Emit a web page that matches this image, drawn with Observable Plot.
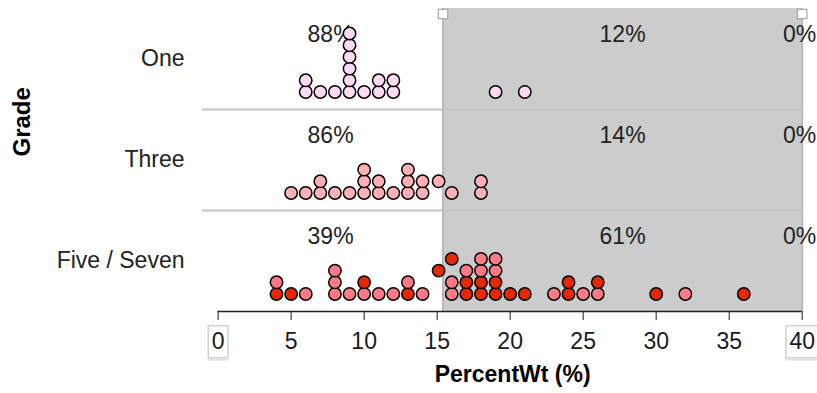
<!DOCTYPE html>
<html><head><meta charset="utf-8">
<script src="https://cdn.jsdelivr.net/npm/d3@7"></script>
<script src="https://cdn.jsdelivr.net/npm/@observablehq/plot@0.6"></script>
<style>
body{margin:0;background:#fff;}
</style>
</head><body><div id="chart"></div>
<script>
// ---- data ----
const grades = ["One", "Three", "Five / Seven"];
const oneValues = [6,6,7,8,9,9,9,9,9,9,10,11,11,12,12,19,21];
const threeValues = [5,6,7,7,8,9,10,10,10,11,11,12,13,13,13,14,14,16,15.1,18,18];
const fiveSevenValues = [4,4,5,6,8,8,8,9,10,10,11,12,13,13,14,16,16,15.1,16,17,17,17,18,18,18,18,19,19,19,19,20,21,23,24,24,25,26,26,30,32,36];
const fiveSevenGroups = ["Seven","Five","Seven","Five","Five","Five","Five","Five","Five","Seven","Five","Five","Seven","Five","Five","Five","Five","Seven","Seven","Seven","Seven","Five","Seven","Seven","Five","Five","Seven","Seven","Five","Five","Seven","Seven","Five","Seven","Seven","Five","Five","Seven","Seven","Five","Seven"];
const xTicks = [0,5,10,15,20,25,30,35,40];
const axisMin = 0, axisMax = 40;
const divider = 15.4;
const xLabel = "PercentWt (%)";
const yLabel = "Grade";
const groupColors = {One: "#ffd8f2", Three: "#ffb0b6", Five: "#ff7a84", Seven: "#e42800"};

// ---- stacking (Fathom-like: lowest free level without horizontal collision) ----
function stackLevels(values) {
  const placed = [];
  return values.map(v => {
    let level = 0;
    while (placed.some(p => p.level === level && Math.abs(p.v - v) < 0.95)) level++;
    placed.push({v, level});
    return level;
  });
}
const dots = [];
function addRow(grade, values, groups) {
  const levels = stackLevels(values);
  values.forEach((v, i) => dots.push({grade, value: v, level: levels[i], group: groups ? groups[i] : grade}));
}
addRow(grades[0], oneValues);
addRow(grades[1], threeValues);
addRow(grades[2], fiveSevenValues, fiveSevenGroups);

// ---- percentages per region ----
const regionBounds = [[-Infinity, divider], [divider, axisMax], [axisMax, Infinity]];
const regionX = [(axisMin + divider) / 2, (divider + axisMax) / 2, axisMax];
const pcts = [];
for (const g of grades) {
  const vals = dots.filter(d => d.grade === g).map(d => d.value);
  regionBounds.forEach(([a, b], i) => {
    const c = vals.filter(v => v >= a && (i === 1 ? v <= b : v < b)).length;
    pcts.push({grade: g, region: i, x: regionX[i], label: Math.round(100 * c / vals.length) + "%"});
  });
}

const yMin = -1.5, yMax = 7.14;
const chart = Plot.plot({
  width: 817, height: 393,
  marginLeft: 202, marginRight: 15.3, marginTop: 8, marginBottom: 82,
  style: {fontFamily: "'Liberation Sans', Arial, sans-serif", fontSize: "23px", color: "#1a1a1a", background: "#fff"},
  x: {domain: [-1.07, axisMax], ticks: xTicks, tickSize: 9, tickPadding: 12, label: null},
  y: {domain: [yMin, yMax], axis: null},
  fy: {domain: grades, axis: null, padding: 0},
  color: {type: "identity"},
  marks: [
    Plot.rect([0], {x1: divider, x2: axisMax, y1: yMin, y2: yMax, fill: "#cccccc"}),
    Plot.ruleX([divider, axisMax], {stroke: "#b8b8b8", strokeWidth: 2}),
    Plot.ruleY(grades.slice(1), {fy: d => d, y: yMax, stroke: "#c4c4c4", strokeWidth: 2}),
    Plot.ruleY(grades.slice(2), {fy: d => d, y: yMin, x1: axisMin, x2: axisMax, stroke: "#222", strokeWidth: 1.3}),
    Plot.text(pcts.filter(d => d.region < 2), {fy: "grade", x: "x", text: "label", frameAnchor: "top", dy: 17, fill: "#222"}),
    Plot.text(pcts.filter(d => d.region === 2), {fy: "grade", x: "x", text: "label", frameAnchor: "top", dy: 17, dx: -2.5, fill: "#222"}),
    Plot.dot(dots, {fy: "grade", x: "value", y: "level", r: 6.2, fill: d => groupColors[d.group], stroke: "#000", strokeWidth: 1.5}),
    Plot.dot([divider, axisMax], {fy: () => grades[0], x: d => d, frameAnchor: "top", dy: 5.5, symbol: "square", r: 5.3, fill: "white", stroke: "#aaa", strokeWidth: 1.2}),
    Plot.text(grades, {fy: d => d, text: d => d, frameAnchor: "left", textAnchor: "end", dx: -18, fill: "#222"}),
    Plot.text([yLabel], {fy: () => grades[1], frameAnchor: "left", dx: -180, dy: -3.5, rotate: -90, fontWeight: "bold", fontSize: 24, fill: "#000"}),
    Plot.text([xLabel], {fy: () => grades[2], x: (axisMin + axisMax) / 2, frameAnchor: "bottom", dy: 70, dx: 2.5, fontWeight: "bold", fill: "#000"})
  ]
});
document.getElementById("chart").append(chart);

// boxes around the axis end labels (Fathom's editable bounds)
const ends = new Set([String(axisMin), String(axisMax)]);
for (const t of chart.querySelectorAll("text")) {
  if (!ends.has(t.textContent.trim())) continue;
  const b = t.getBBox();
  const ns = "http://www.w3.org/2000/svg";
  const r = document.createElementNS(ns, "rect");
  r.setAttribute("x", b.x - 3.5); r.setAttribute("y", b.y - 2);
  r.setAttribute("width", b.width + 7); r.setAttribute("height", b.height + 6);
  r.setAttribute("fill", "white"); r.setAttribute("stroke", "#d2d2d2"); r.setAttribute("stroke-width", 1.5);
  const tr = t.getAttribute("transform"); if (tr) r.setAttribute("transform", tr);
  const l = document.createElementNS(ns, "line");
  l.setAttribute("x1", b.x - 3.5); l.setAttribute("x2", b.x + b.width + 3.5);
  l.setAttribute("y1", b.y + b.height + 6); l.setAttribute("y2", b.y + b.height + 6);
  l.setAttribute("stroke", "#e2e2e2"); l.setAttribute("stroke-width", 1.5);
  if (tr) l.setAttribute("transform", tr);
  t.parentNode.insertBefore(r, t);
  t.parentNode.insertBefore(l, t);
}
</script>
</body></html>
